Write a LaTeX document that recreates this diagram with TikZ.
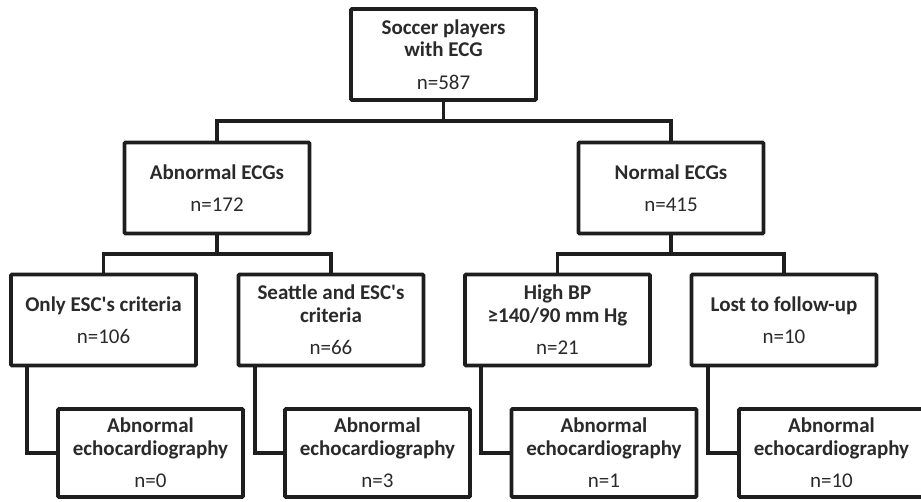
\documentclass[tikz,border=0pt]{standalone}
\usepackage{fontspec}
\setmainfont{Carlito}
\usetikzlibrary{calc}
\definecolor{ln}{HTML}{1E1E1E}
\definecolor{tx}{HTML}{2A2A2A}
\begin{document}
\begin{tikzpicture}[x=1pt,y=-1pt,
  box/.style={draw=ln, line width=3.8pt, rounded corners=1pt, fill=white,
    minimum width=185pt, minimum height=91pt, inner sep=0pt, align=center,
    text=tx, font=\fontsize{21}{22.5}\selectfont},
  lowbox/.style={box, minimum height=88pt},
  conn/.style={draw=ln, line width=3.8pt}]
\useasboundingbox (0,0) rectangle (921,502);
% level 1
\node[box] (top) at (443.5,54.5) {\textbf{Soccer players}\\\textbf{with ECG}\\[10pt]n=587};
% level 2
\node[box] (abn) at (217,188) {\textbf{Abnormal ECGs}\\[9pt]n=172};
\node[box] (norm) at (671,188) {\textbf{Normal ECGs}\\[9pt]n=415};
% level 3
\node[box] (only) at (103.5,320) {\textbf{Only ESC\textquotesingle s criteria}\\[9pt]n=106};
\node[box] (seat) at (331,320) {\textbf{Seattle and ESC\textquotesingle s}\\\textbf{criteria}\\[10pt]n=66};
\node[box] (hbp) at (557.5,320) {\textbf{High BP}\\\textbf{≥140/90 mm Hg}\\[10pt]n=21};
\node[box] (lost) at (784,320) {\textbf{Lost to follow-up}\\[9pt]n=10};
% level 4
\node[lowbox] (e1) at (150.5,453) {\textbf{Abnormal}\\\textbf{echocardiography}\\[10pt]n=0};
\node[lowbox] (e2) at (377.5,453) {\textbf{Abnormal}\\\textbf{echocardiography}\\[10pt]n=3};
\node[lowbox] (e3) at (604,453) {\textbf{Abnormal}\\\textbf{echocardiography}\\[10pt]n=1};
\node[lowbox] (e4) at (831.5,453) {\textbf{Abnormal}\\\textbf{echocardiography}\\[10pt]n=10};
% connectors
\coordinate (m1) at ($(top.south)!.5!(abn.north)$);
\draw[conn] (top.south) -- (top.south |- m1);
\draw[conn] (abn.north) |- (top.south |- m1) -| (norm.north);
\coordinate (m2) at ($(abn.south)!.5!(only.north)$);
\draw[conn] (abn.south) -- (abn.south |- m2);
\draw[conn] (only.north) |- (abn.south |- m2) -| (seat.north);
\draw[conn] (norm.south) -- (norm.south |- m2);
\draw[conn] (hbp.north) |- (norm.south |- m2) -| (lost.north);
\draw[conn] ([xshift=18pt]only.south west) |- (e1.west);
\draw[conn] ([xshift=18pt]seat.south west) |- (e2.west);
\draw[conn] ([xshift=18pt]hbp.south west) |- (e3.west);
\draw[conn] ([xshift=18pt]lost.south west) |- (e4.west);
\end{tikzpicture}
\end{document}
